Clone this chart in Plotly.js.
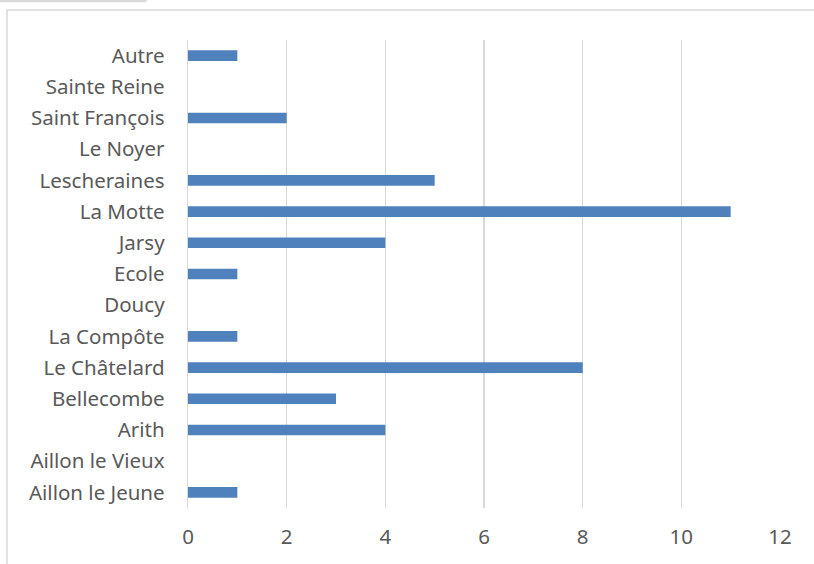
<!DOCTYPE html>
<html>
<head>
<meta charset="utf-8">
<script src="https://cdn.plot.ly/plotly-3.0.1.min.js"></script>
<style>html,body{margin:0;padding:0;background:#fff;}#chart{width:814px;height:564px;}</style>
</head>
<body>
<div id="chart"></div>
<script>
const categories = ["Aillon le Jeune","Aillon le Vieux","Arith","Bellecombe","Le Châtelard","La Compôte","Doucy","Ecole","Jarsy","La Motte","Lescheraines","Le Noyer","Saint François","Sainte Reine","Autre"];
const values = [1,0,4,3,8,1,0,1,4,11,5,0,2,0,1];
const xTicks = [0,2,4,6,8,10,12];

const trace = {
  type: 'bar',
  orientation: 'h',
  y: categories,
  x: values,
  marker: {color: '#4f81bd'},
  hoverinfo: 'x+y'
};

const layout = {
  width: 814,
  height: 564,
  margin: {l: 188, r: 34, t: 40, b: 56},
  paper_bgcolor: '#ffffff',
  plot_bgcolor: '#ffffff',
  bargap: 0.66,
  showlegend: false,
  font: {family: 'Noto Sans, Open Sans, sans-serif', color: '#595959', size: 20.5},
  xaxis: {
    range: [0, 12],
    tickvals: xTicks,
    ticktext: xTicks.map(String),
    showgrid: true,
    gridcolor: '#d9d9d9',
    gridwidth: 1.3,
    zeroline: false,
    showline: false,
    ticks: '',
    ticklabelstandoff: 14,
    tickfont: {size: 20.5, color: '#595959'},
    fixedrange: true
  },
  yaxis: {
    type: 'category',
    categoryorder: 'array',
    categoryarray: categories,
    showgrid: false,
    zeroline: false,
    showline: true,
    linecolor: '#d9d9d9',
    linewidth: 1.3,
    ticks: '',
    ticklabelstandoff: 18,
    tickfont: {size: 20.5, color: '#595959'},
    fixedrange: true
  },
  shapes: [
    {type: 'rect', xref: 'paper', yref: 'paper', x0: -0.3057, x1: 1.2, y0: -0.2, y1: 1.0641,
     line: {color: '#d9d9d9', width: 1.5}, fillcolor: 'rgba(0,0,0,0)', layer: 'below'},
    {type: 'line', xref: 'paper', yref: 'paper', x0: -0.33, x1: -0.0709, y0: 1.0835, y1: 1.0835,
     line: {color: '#d9d9d9', width: 2.5}},
    {type: 'line', xref: 'paper', yref: 'paper', x0: -0.0709, x1: -0.0709, y0: 1.0835, y1: 1.1,
     line: {color: '#d9d9d9', width: 2}}
  ]
};

Plotly.newPlot('chart', [trace], layout, {displayModeBar: false, staticPlot: true});
</script>
</body>
</html>
